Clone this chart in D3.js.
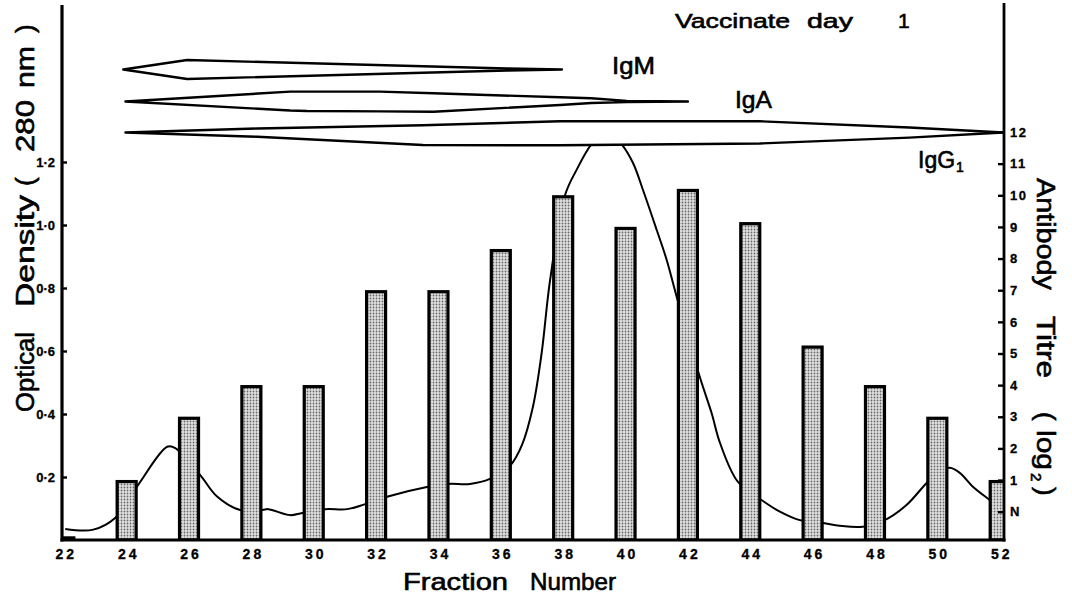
<!DOCTYPE html>
<html><head><meta charset="utf-8">
<script src="https://cdn.jsdelivr.net/npm/d3@7"></script>
<style>body{margin:0;background:#fff}svg{display:block}</style>
</head><body>
<svg id="c" width="1072" height="597"></svg>
<script>
// ---------- DATA ----------
const fractionTicks = [22,24,26,28,30,32,34,36,38,40,42,44,46,48,50,52];
const barFractions  = [22,24,26,28,30,32,34,36,38,40,42,44,46,48,50,52];
const titreValues   = [-0.78,1,3,4,4,7,7,8.3,10,9,10.2,9.15,5.25,4,3,1];   // log2 antibody titre (0 = N)

const odFractions = [22.03,22.93,23.63,24.37,25.30,25.56,26.36,26.90,27.64,28.35,28.54,29.24,29.63,30.37,31.07,31.65,32.38,33.63,34.31,35.01,35.65,36.29,36.68,37.03,37.31,37.58,38.06,38.43,38.91,39.4,39.87,40.24,40.56,41.0,41.32,41.64,42.38,42.76,43.03,43.60,44.36,44.95,45.59,46.33,46.87,47.61,48.31,49.01,49.66,50.08,50.40,50.72,51.13,51.68,52.0,52.12];
const odValues    = [0.035,0.033,0.070,0.175,0.296,0.292,0.206,0.138,0.095,0.095,0.098,0.079,0.086,0.098,0.098,0.114,0.138,0.168,0.178,0.178,0.194,0.235,0.302,0.423,0.594,0.825,1.095,1.175,1.257,1.30,1.257,1.197,1.111,0.984,0.889,0.772,0.518,0.403,0.308,0.185,0.127,0.090,0.063,0.054,0.045,0.042,0.063,0.111,0.181,0.217,0.229,0.213,0.170,0.127,0.102,0.09];

const odTicks      = [0.2,0.4,0.6,0.8,1.0,1.2];
const odTickLabels = ["0·2","0·4","0·6","0·8","1·0","1·2"];
const titreTicks      = [0,1,2,3,4,5,6,7,8,9,10,11,12];
const titreTickLabels = ["N","1","2","3","4","5","6","7","8","9","10","11","12"];

// immunoglobulin class distribution across fractions (relative amount, upper / lower half)
const igMFractions  = [23.89,25.94,36.2,37.96];
const igMUpper      = [0,0.74,0.08,0];
const igMLower      = [0,0.74,0.08,0];
const igAFractions  = [23.96,29.24,29.78,32.13,33.84,37.9,38.9,40.04,42.0];
const igAUpper      = [0,0.77,0.77,0.77,0.64,0.33,0.25,0.05,0];
const igALower      = [0,0.70,0.74,0.77,0.80,0.27,0.12,0.05,0];
const igG1Fractions = [23.96,28.19,33.5,37.9,44.3,49.1,52.12];
const igG1Upper     = [0,0.31,0.57,0.88,0.88,0.39,0];
const igG1Lower     = [0,0.33,0.98,1.0,0.86,0.40,0];

// ---------- LAYOUT ----------
const svg = d3.select("#c");
const FONT = "'Liberation Sans', Arial, Helvetica, sans-serif";
const axL = 62, axR = 1004, base = 540;

const x  = d3.scaleLinear().domain([22,52]).range([64.3,999.7]);
const yOD = d3.scaleLinear().domain([0,1.2]).range([540,162]);
const yT  = d3.scaleLinear().domain([0,12]).range([511.7,132]);
const band = d3.scaleLinear().domain([0,1]).range([0,12.8]);

const defs = svg.append("defs");
const pat = defs.append("pattern").attr("id","dots").attr("width",3).attr("height",3).attr("patternUnits","userSpaceOnUse");
pat.append("rect").attr("width",3).attr("height",3).attr("fill","#e2e2e2");
pat.append("circle").attr("cx",1.5).attr("cy",1.5).attr("r",0.9).attr("fill","#666");
defs.append("clipPath").attr("id","plot").append("rect").attr("x",axL).attr("y",0).attr("width",axR-axL-1).attr("height",base);

// OD line
const odData = odFractions.map((f,i)=>[f,odValues[i]]);
svg.append("path").datum(odData)
  .attr("d", d3.line().x(d=>x(d[0])).y(d=>yOD(d[1])).curve(d3.curveCatmullRom))
  .attr("fill","none").attr("stroke","#000").attr("stroke-width",2);

// bars
const bw = 19;
svg.append("g").attr("clip-path","url(#plot)").selectAll("rect")
  .data(barFractions.map((f,i)=>({f, v:titreValues[i]})))
  .join("rect")
  .attr("x", d=>x(d.f)-bw/2).attr("y", d=>yT(d.v)+1.5)
  .attr("width", bw).attr("height", d=>Math.max(0.5, base - yT(d.v)-1.5))
  .attr("fill","url(#dots)").attr("stroke","#000").attr("stroke-width",3.2);

// lozenges
const bands = [
  {f:igMFractions, u:igMUpper, l:igMLower, cy:69.5},
  {f:igAFractions, u:igAUpper, l:igALower, cy:101.5},
  {f:igG1Fractions, u:igG1Upper, l:igG1Lower, cy:132.5}
];
bands.forEach(b=>{
  const top = b.f.map((f,i)=>[x(f), b.cy - band(b.u[i])]);
  const bot = b.f.map((f,i)=>[x(f), b.cy + band(b.l[i])]).reverse();
  svg.append("path").attr("d", d3.line()(top.concat(bot))+"Z")
    .attr("fill","#fff").attr("stroke","#000").attr("stroke-width",2.4).attr("stroke-linejoin","round");
});

// axes
const gL = svg.append("g").attr("transform",`translate(${axL},0)`)
  .call(d3.axisLeft(yOD).tickValues(odTicks).tickFormat((d,i)=>odTickLabels[i]).tickSize(-5).tickPadding(7));
const gR = svg.append("g").attr("transform",`translate(${axR},0)`)
  .call(d3.axisRight(yT).tickValues(titreTicks).tickFormat((d,i)=>titreTickLabels[i]).tickSize(-6).tickPadding(6));
const gB = svg.append("g").attr("transform",`translate(0,${base})`)
  .call(d3.axisBottom(x).tickValues(fractionTicks).tickFormat(d3.format("d")).tickSize(0).tickPadding(9));
[gL,gR,gB].forEach(g=>{
  g.select(".domain").remove();
  g.selectAll(".tick line").attr("stroke","#000").attr("stroke-width",2.4);
  g.selectAll("text").attr("font-family",FONT).attr("font-weight","bold").attr("fill","#000")
    .attr("stroke","#000").attr("stroke-width",0.3);
});
gL.selectAll("text").attr("font-size",13);
gR.selectAll("text").attr("font-size",13).attr("letter-spacing",1.5);
gB.selectAll("text").attr("font-size",14).attr("letter-spacing",3).attr("dx",1.5);

svg.append("line").attr("x1",axL).attr("x2",axL).attr("y1",5).attr("y2",base+1.5).attr("stroke","#000").attr("stroke-width",3.2);
svg.append("line").attr("x1",axR).attr("x2",axR).attr("y1",3).attr("y2",base+1.5).attr("stroke","#000").attr("stroke-width",2.8);
svg.append("line").attr("x1",axL-1.5).attr("x2",axR+1.5).attr("y1",base).attr("y2",base).attr("stroke","#000").attr("stroke-width",3.2);

// texts
function word(t, x0, y0, size, len, rot){
  const el = svg.append("text").attr("font-family",FONT).attr("font-size",size).attr("fill","#000")
    .attr("stroke","#000").attr("stroke-width",0.6)
    .attr("transform",`translate(${x0},${y0})`+(rot?` rotate(${rot})`:""))
    .text(t);
  if(len) el.attr("textLength",len).attr("lengthAdjust","spacingAndGlyphs");
  return el;
}
word("Vaccinate",675,28,21,115);
word("day",807,28,21,46);
word("1",898,28,21,null);
word("IgM",612,74,23,43);
word("IgA",735,108,23,37);
const g1 = word("IgG",918,168,23,null);
g1.append("tspan").attr("font-size",14).attr("dy",4).attr("dx",1).text("1");

word("Fraction",403,590,24,105);
word("Number",530,590,24,86);

// left title (rotated -90)
const lt = [["Optical",412,80],["Density",307,112],["(",186,null],["280",152,52],["nm",88,42],[")",33,null]];
lt.forEach(w=>word(w[0],34,w[1],26,w[2],-90));
// right title (rotated 90)
const rt = [["Antibody",178,112],["Titre",316,62],["(",412,null],["log",430,40],[")",487,null]];
rt.forEach(w=>word(w[0],1037,w[1],26,w[2],90));
word("2",1031,473,15,null,90);
</script>
</body></html>
